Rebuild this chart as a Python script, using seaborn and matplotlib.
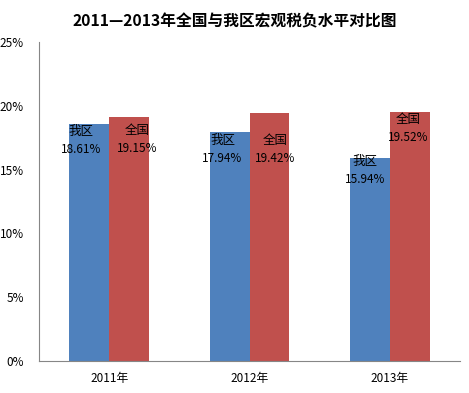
import pandas as pd
import seaborn as sns
import matplotlib.pyplot as plt
from matplotlib.ticker import FuncFormatter

# 数据
years = ['2011年', '2012年', '2013年']
regions = ['我区', '全国']
local_rate = [18.61, 17.94, 15.94]
national_rate = [19.15, 19.42, 19.52]

# 标签偏移（像素）：每个柱子的 (dx, dy)
label_offsets = {
    '我区': [(-8, -8), (-7, -8), (-5, -4)],
    '全国': [(8, -14), (6, -27), (-2, -8)],
}

df = pd.DataFrame({
    'year': years * 2,
    'region': [regions[0]] * 3 + [regions[1]] * 3,
    'rate': local_rate + national_rate,
})

sns.set_style('white')
plt.rcParams['font.family'] = ['Noto Sans CJK SC', 'DejaVu Sans']
plt.rcParams['text.color'] = 'black'
plt.rcParams['xtick.color'] = 'black'
plt.rcParams['ytick.color'] = 'black'

fig = plt.figure(figsize=(4.69, 3.93), dpi=100)
ax = fig.add_axes([39 / 469, 32 / 393, 421 / 469, 319 / 393])

sns.barplot(data=df, x='year', y='rate', hue='region', hue_order=regions,
            palette=['#4F81BD', '#C0504D'], width=0.57, saturation=1,
            linewidth=0, edgecolor='none', legend=False, ax=ax)

ax.set_xlim(-0.5, 2.5)
ax.set_ylim(0, 25)
ax.set_yticks([0, 5, 10, 15, 20, 25])
ax.yaxis.set_major_formatter(FuncFormatter(lambda v, p: f'{v:.0f}%'))
ax.set_xlabel('')
ax.set_ylabel('')
ax.tick_params(axis='both', length=0, labelsize=8.5)
ax.tick_params(axis='y', pad=11)
ax.tick_params(axis='x', pad=8)

for s in ['top', 'right']:
    ax.spines[s].set_visible(False)
for s in ['left', 'bottom']:
    ax.spines[s].set_color('#868686')
    ax.spines[s].set_linewidth(0.8)

# 数据标签
for cont, reg in zip(ax.containers, regions):
    for i, bar in enumerate(cont):
        dx, dy = label_offsets[reg][i]
        cx = bar.get_x() + bar.get_width() / 2
        top = bar.get_height()
        ax.annotate(reg, (cx, top), xytext=(dx, dy), textcoords='offset pixels',
                    ha='center', va='center', fontsize=9)
        ax.annotate(f'{top:.2f}%', (cx, top), xytext=(dx, dy - 18),
                    textcoords='offset pixels', ha='center', va='center',
                    fontsize=8.5)

fig.suptitle('2011—2013年全国与我区宏观税负水平对比图', x=0.5, y=0.965,
             fontsize=11.3, fontweight='bold')

fig.savefig('out.png', dpi=100)
